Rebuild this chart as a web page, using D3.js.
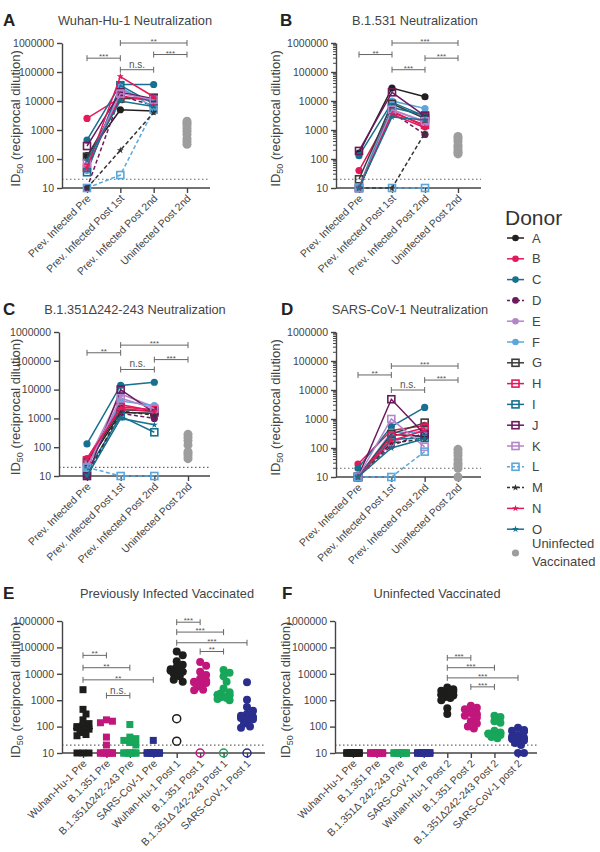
<!DOCTYPE html>
<html>
<head>
<meta charset="utf-8">
<script src="https://cdn.jsdelivr.net/npm/d3@7"></script>
<style>
body { margin: 0; background: #fff; }
text { font-family: "Liberation Sans", Arial, sans-serif; }
</style>
</head>
<body>
<svg id="chart" width="600" height="852"></svg>
<script>
// donors (panels A-D)
const donors = ["A","B","C","D","E","F","G","H","I","J","K","L","M","N","O"];
const donorColors = ["#231f20","#e3195b","#17708f","#6b1a5e","#b385c9","#5ba7dc",
                     "#3b3b3b","#e3195b","#17708f","#6b1a5e","#b385c9","#5ba7dc",
                     "#333333","#e3195b","#17708f"];
const donorShapes = ["circle","circle","circle","circle","circle","circle",
                     "square","square","square","square","square","square",
                     "star","star","star"];
const donorDashed = [false,false,false,true,false,false,false,false,false,false,false,true,true,false,false];
const timeLabels = ["Prev. Infected Pre","Prev. Infected Post 1st","Prev. Infected Post 2nd","Uninfected Post 2nd"];

// [Pre, Post 1st, Post 2nd] per donor
const wuhanDonors = [[130,5000,4500],[2500,13000,11000],[450,37000,37000],[10,15000,7000],[60,25000,9000],
  [40,30000,6000],[120,12000,13000],[50,15000,10000],[35,35000,8000],[280,20000,12000],
  [70,18000,11000],[10,28,5000],[10,200,4000],[50,70000,14000],[90,10000,6500]];
const wuhanUninf = [2000,1700,1400,1100,900,700,500,400,320];
const wuhanBrackets = [[0,1,3e5,"***"],[1,3,1e6,"**"],[2,3,4e5,"***"],[1,2,1.2e5,"n.s."]];

const b1531Donors = [[160,28000,14000],[40,4500,1300],[130,9000,3000],[10,4000,700],[10,5000,1800],
  [10,10000,5500],[20,8000,2500],[10,4000,1500],[10,6000,3200],[190,20000,3000],
  [10,5000,2000],[10,10,10],[10,10,800],[10,3500,1200],[10,2800,2200]];
const b1531Uninf = [600,500,400,300,250,200,170,150];
const b1531Brackets = [[0,1,4e5,"**"],[1,3,1e6,"***"],[2,3,3e5,"***"],[1,2,1.2e5,"***"]];

const deltaDonors = [[25,1600,1500],[40,3000,1800],[130,14000,18000],[10,1500,1000],[30,7000,2500],
  [20,4000,2800],[30,2000,1800],[35,2500,2000],[15,1200,330],[10,10000,1600],
  [20,5000,2200],[20,10,10],[10,1800,1300],[40,2200,1700],[10,1000,600]];
const deltaUninf = [280,220,170,120,70,60,50,40];
const deltaBrackets = [[0,1,1.9e5,"**"],[1,3,3.5e5,"***"],[2,3,1.1e5,"***"],[1,2,5e4,"n.s."]];

const sarsDonors = [[10,300,250],[28,400,600],[20,550,2500],[10,120,330],[10,150,450],
  [10,350,350],[10,300,750],[10,250,500],[10,200,220],[10,4800,300],
  [10,1000,110],[10,10,75],[10,150,200],[10,180,400],[10,100,210]];
const sarsUninf = [90,70,55,40,30,25,20,10];
const sarsBrackets = [[0,1,3.3e4,"**"],[1,3,6.7e4,"***"],[2,3,2.2e4,"***"],[1,2,1e4,"n.s."]];

// panels E and F
const groupColors = ["#1d1d1b","#c1177c","#17a65a","#2a2e8e"];
const eCats = ["Wuhan-Hu-1 Pre","B.1.351 Pre","B.1.351Δ242-243 Pre","SARS-CoV-1 Pre",
  "Wuhan-Hu-1 Post 1","B.1.351  Post 1","B.1.351Δ 242-243 Post 1","SARS-CoV-1 Post 1"];
const eValues = [
  [2500,450,300,180,130,110,100,90,80,70,60,50,45,10,10,10],
  [180,160,140,40,20,10,10,10,10,10,10,10,10,10,10],
  [120,40,35,30,25,20,10,10,10,10,10,10,10,10,10],
  [30,10,10,10,10,10,10,10,10,10,10,10,10,10,10],
  [70000,50000,30000,22000,18000,15000,14000,13000,12000,11000,10000,8000,6000,5000],
  [28000,20000,12000,9000,6500,5500,5000,4800,4500,4000,3200,2500,2400],
  [14000,11000,8000,5000,2800,2000,1800,1600,1500,1400,1300,1200,1100,1000],
  [4800,1050,550,400,300,260,230,210,190,160,130,100,90]
];
const eOpen = [[],[],[],[],[200,28],[10],[10],[10]];
const eBrackets = [[0,1,5e4,"**"],[0,2,1.7e4,"**"],[0,3,5.9e3,"**"],[1,2,1.5e3,"n.s."],
  [4,5,9e5,"***"],[4,6,3.8e5,"***"],[4,7,1.5e5,"***"],[5,6,7e4,"**"]];

const fCats = ["Wuhan-Hu-1 Pre","B.1.351 Pre","B.1.351Δ 242-243 Pre","SARS-CoV-1 Pre",
  "Wuhan-Hu-1 Post 2","B.1.351  Post 2","B.1.351Δ242-243 Post 2","SARS-CoV-1 post 2"];
const fValues = [
  [10,10,10,10,10,10,10,10,10,10,10,10,10,10,10],
  [10,10,10,10,10,10,10,10,10,10,10,10,10,10,10],
  [10,10,10,10,10,10,10,10,10,10,10,10,10,10,10],
  [10,10,10,10,10,10,10,10,10,10,10,10,10,10,10],
  [3000,2600,2300,2100,1900,1800,1700,1600,1500,1400,1300,1200,1000,500,300],
  [620,520,450,380,330,300,280,260,220,160,130,100,85],
  [260,230,160,140,70,60,55,52,48,45,40,36],
  [90,75,70,65,48,42,38,34,30,27,24,20,10,10]
];
const fOpen = [[],[],[],[],[],[],[],[]];
const fBrackets = [[4,5,4e4,"***"],[4,6,1.7e4,"***"],[4,7,7e3,"***"],[5,6,3.2e3,"***"]];

const yTicks = [10,100,1000,10000,100000,1000000];

const svg = d3.select("#chart");
const txt = "#444";
const axisCol = "#444";

function drawMarker(g, shape, color, cx, cy, r) {
  r = r || 3.6;
  if (shape === "circle") {
    g.append("circle").attr("cx", cx).attr("cy", cy).attr("r", r).attr("fill", color);
  } else if (shape === "square") {
    g.append("rect").attr("x", cx - 3.5).attr("y", cy - 3.5).attr("width", 7).attr("height", 7)
      .attr("fill", "none").attr("stroke", color).attr("stroke-width", 1.6);
  } else if (shape === "fsquare") {
    g.append("rect").attr("x", cx - 3.5).attr("y", cy - 3.5).attr("width", 7).attr("height", 7)
      .attr("fill", color);
  } else if (shape === "ocircle") {
    g.append("circle").attr("cx", cx).attr("cy", cy).attr("r", r).attr("fill", "none")
      .attr("stroke", color).attr("stroke-width", 1.5);
  } else {
    g.append("path").attr("transform", `translate(${cx},${cy})`)
      .attr("d", d3.symbol(d3.symbolStar, 15)()).attr("fill", color);
  }
}

function axes(g, x, y, o) {
  // dotted limit of detection
  g.append("line").attr("x1", o.left).attr("x2", o.right).attr("y1", y(20)).attr("y2", y(20))
    .attr("stroke", "#666").attr("stroke-width", 1.2).attr("stroke-dasharray", "1.5,2.5");

  const ya = g.append("g").attr("transform", `translate(${o.left},0)`)
    .call(d3.axisLeft(y).tickValues(yTicks).tickFormat(d3.format("d")).tickSize(5).tickSizeOuter(0));
  ya.select(".domain").attr("stroke", axisCol).attr("stroke-width", 1.4);
  ya.selectAll(".tick line").attr("stroke", axisCol).attr("stroke-width", 1.4);
  ya.selectAll(".tick text").attr("fill", txt).attr("font-size", 10.5);
  if (o.minor) {
    for (let k = 1; k < 6; k++) {
      for (let m = 2; m < 10; m++) {
        ya.append("line").attr("x1", -3).attr("x2", 0).attr("y1", y(m * Math.pow(10, k))).attr("y2", y(m * Math.pow(10, k)))
          .attr("stroke", axisCol).attr("stroke-width", 1);
      }
    }
  }

  g.append("line").attr("x1", o.left).attr("x2", o.right).attr("y1", o.bottom).attr("y2", o.bottom)
    .attr("stroke", axisCol).attr("stroke-width", 1.4);
  const xa = g.append("g").attr("transform", `translate(0,${o.bottom})`)
    .call(d3.axisBottom(x).tickSize(5).tickSizeOuter(0));
  xa.select(".domain").remove();
  xa.selectAll(".tick line").attr("stroke", axisCol).attr("stroke-width", 1.4);
  xa.selectAll(".tick text").attr("fill", txt).attr("font-size", 10.5)
    .attr("text-anchor", "end").attr("dy", null).attr("y", 0)
    .attr("transform", "translate(4,11) rotate(-45)");

  // y label
  const t = g.append("text").attr("transform", `translate(${o.ylabX},${(o.top + o.bottom) / 2 + 3}) rotate(-90)`)
    .attr("text-anchor", "middle").attr("fill", txt).attr("font-size", 13);
  t.append("tspan").text("ID");
  t.append("tspan").text("50").attr("font-size", 9).attr("dy", 3);
  t.append("tspan").text(" (reciprocal dilution)").attr("dy", -3);

  g.append("text").attr("x", o.titleX).attr("y", o.titleY).attr("text-anchor", "middle")
    .attr("fill", txt).attr("font-size", 12.8).text(o.title);
  g.append("text").attr("x", o.letterX).attr("y", o.titleY + 1).attr("font-weight", "bold")
    .attr("fill", "#222").attr("font-size", 17).text(o.letter);
}

function brackets(g, x, y, cats, list) {
  list.forEach(b => {
    const x1 = x(cats[b[0]]), x2 = x(cats[b[1]]), yy = y(b[2]);
    g.append("line").attr("x1", x1).attr("x2", x2).attr("y1", yy).attr("y2", yy).attr("stroke", "#666").attr("stroke-width", 1);
    [x1, x2].forEach(xx => g.append("line").attr("x1", xx).attr("x2", xx).attr("y1", yy - 3).attr("y2", yy + 3)
      .attr("stroke", "#666").attr("stroke-width", 1));
    g.append("text").attr("x", (x1 + x2) / 2).attr("y", b[3] === "n.s." ? yy - 2 : yy + 1)
      .attr("text-anchor", "middle").attr("fill", "#555")
      .attr("font-size", b[3] === "n.s." ? 10 : 8).text(b[3]);
  });
}

function donorPanel(o) {
  const g = svg.append("g");
  const y = d3.scaleLog().domain([10, 1e6]).range([o.bottom, o.top]);
  const x = d3.scalePoint().domain(timeLabels).range([o.x0, o.x1]);
  axes(g, x, y, o);

  o.uninf.forEach(v => g.append("circle").attr("cx", x(timeLabels[3])).attr("cy", y(v))
    .attr("r", 4.5).attr("fill", "#9d9d9d"));

  const line = d3.line().x((d, i) => x(timeLabels[i])).y(d => y(d));
  o.donors.forEach((vals, i) => {
    const dg = g.append("g");
    dg.append("path").attr("d", line(vals)).attr("fill", "none").attr("stroke", donorColors[i])
      .attr("stroke-width", 1.5).attr("stroke-dasharray", donorDashed[i] ? "4,2.5" : null);
    vals.forEach((v, j) => drawMarker(dg, donorShapes[i], donorColors[i], x(timeLabels[j]), y(v)));
  });
  brackets(g, x, y, timeLabels, o.brackets);
}

function swarm(vals, y) {
  const pts = vals.map(v => ({ v: v, py: y(v), dx: 0 })).sort((a, b) => a.py - b.py);
  const placed = [];
  const fallback = [-3, 3, -6, 6, 0];
  pts.forEach((p, n) => {
    let best = null;
    for (let k = 0; k < 10; k++) {
      const off = (k % 2 ? 1 : -1) * Math.ceil(k / 2) * 3;
      if (Math.abs(off) > 6) break;
      if (placed.every(q => Math.hypot(q.dx - off, q.py - p.py) >= 5.5)) { best = off; break; }
    }
    p.dx = best === null ? fallback[n % 5] : best;
    placed.push(p);
  });
  return pts;
}

function scatterPanel(o) {
  const g = svg.append("g");
  const y = d3.scaleLog().domain([10, 1e6]).range([o.bottom, o.top]);
  const x = d3.scalePoint().domain(o.cats).range([o.x0, o.x1]);
  axes(g, x, y, o);

  o.cats.forEach((c, i) => {
    const col = groupColors[i % 4];
    const cx = x(c);
    swarm(o.values[i], y).forEach(p => drawMarker(g, i < 4 ? "fsquare" : "circle", col, cx + p.dx, p.py, 4));
    o.open[i].forEach(v => drawMarker(g, "ocircle", col, cx, y(v), 4));
    const med = d3.median(o.values[i].concat(o.open[i]));
    g.append("line").attr("x1", cx - 10).attr("x2", cx + 10).attr("y1", y(med)).attr("y2", y(med))
      .attr("stroke", col).attr("stroke-width", 1.5);
  });
  brackets(g, x, y, o.cats, o.brackets);
}

donorPanel({ donors: wuhanDonors, uninf: wuhanUninf, brackets: wuhanBrackets,
  left: 62, right: 210, top: 43, bottom: 188, x0: 87, x1: 187, ylabX: 20,
  title: "Wuhan-Hu-1 Neutralization", titleX: 135, titleY: 25, letter: "A", letterX: 3 });
donorPanel({ donors: b1531Donors, uninf: b1531Uninf, brackets: b1531Brackets, minor: true,
  left: 336, right: 481, top: 43, bottom: 188, x0: 359, x1: 458, ylabX: 280,
  title: "B.1.531 Neutralization", titleX: 415, titleY: 25, letter: "B", letterX: 280 });
donorPanel({ donors: deltaDonors, uninf: deltaUninf, brackets: deltaBrackets,
  left: 59, right: 210, top: 332, bottom: 476, x0: 87, x1: 188, ylabX: 20,
  title: "B.1.351Δ242-243 Neutralization", titleX: 135, titleY: 314, letter: "C", letterX: 3 });
donorPanel({ donors: sarsDonors, uninf: sarsUninf, brackets: sarsBrackets, minor: true,
  left: 336, right: 481, top: 332, bottom: 477, x0: 358, x1: 458, ylabX: 280,
  title: "SARS-CoV-1 Neutralization", titleX: 410, titleY: 314, letter: "D", letterX: 281 });

scatterPanel({ cats: eCats, values: eValues, open: eOpen, brackets: eBrackets,
  left: 62, right: 265, top: 621, bottom: 753, x0: 83, x1: 247, ylabX: 20,
  title: "Previously Infected Vaccinated", titleX: 167, titleY: 598, letter: "E", letterX: 3 });
scatterPanel({ cats: fCats, values: fValues, open: fOpen, brackets: fBrackets,
  left: 335, right: 537, top: 621, bottom: 753, x0: 353, x1: 518, ylabX: 290,
  title: "Uninfected Vaccinated", titleX: 437, titleY: 598, letter: "F", letterX: 282 });

// legend
const lg = svg.append("g");
lg.append("text").attr("x", 505).attr("y", 225).attr("font-size", 21).attr("fill", "#333").text("Donor");
donors.forEach((d, i) => {
  const yy = 238 + i * 20.8;
  lg.append("line").attr("x1", 507).attr("x2", 524).attr("y1", yy).attr("y2", yy)
    .attr("stroke", donorColors[i]).attr("stroke-width", 1.5)
    .attr("stroke-dasharray", donorDashed[i] ? "3,2" : null);
  drawMarker(lg, donorShapes[i], donorColors[i], 515.5, yy, 3.3);
  lg.append("text").attr("x", 532).attr("y", yy + 4.5).attr("font-size", 13).attr("fill", txt).text(d);
});
lg.append("circle").attr("cx", 515.5).attr("cy", 553).attr("r", 3.6).attr("fill", "#9d9d9d");
lg.append("text").attr("x", 532).attr("y", 548).attr("font-size", 13).attr("fill", txt).text("Uninfected");
lg.append("text").attr("x", 532).attr("y", 566).attr("font-size", 13).attr("fill", txt).text("Vaccinated");
</script>
</body>
</html>
